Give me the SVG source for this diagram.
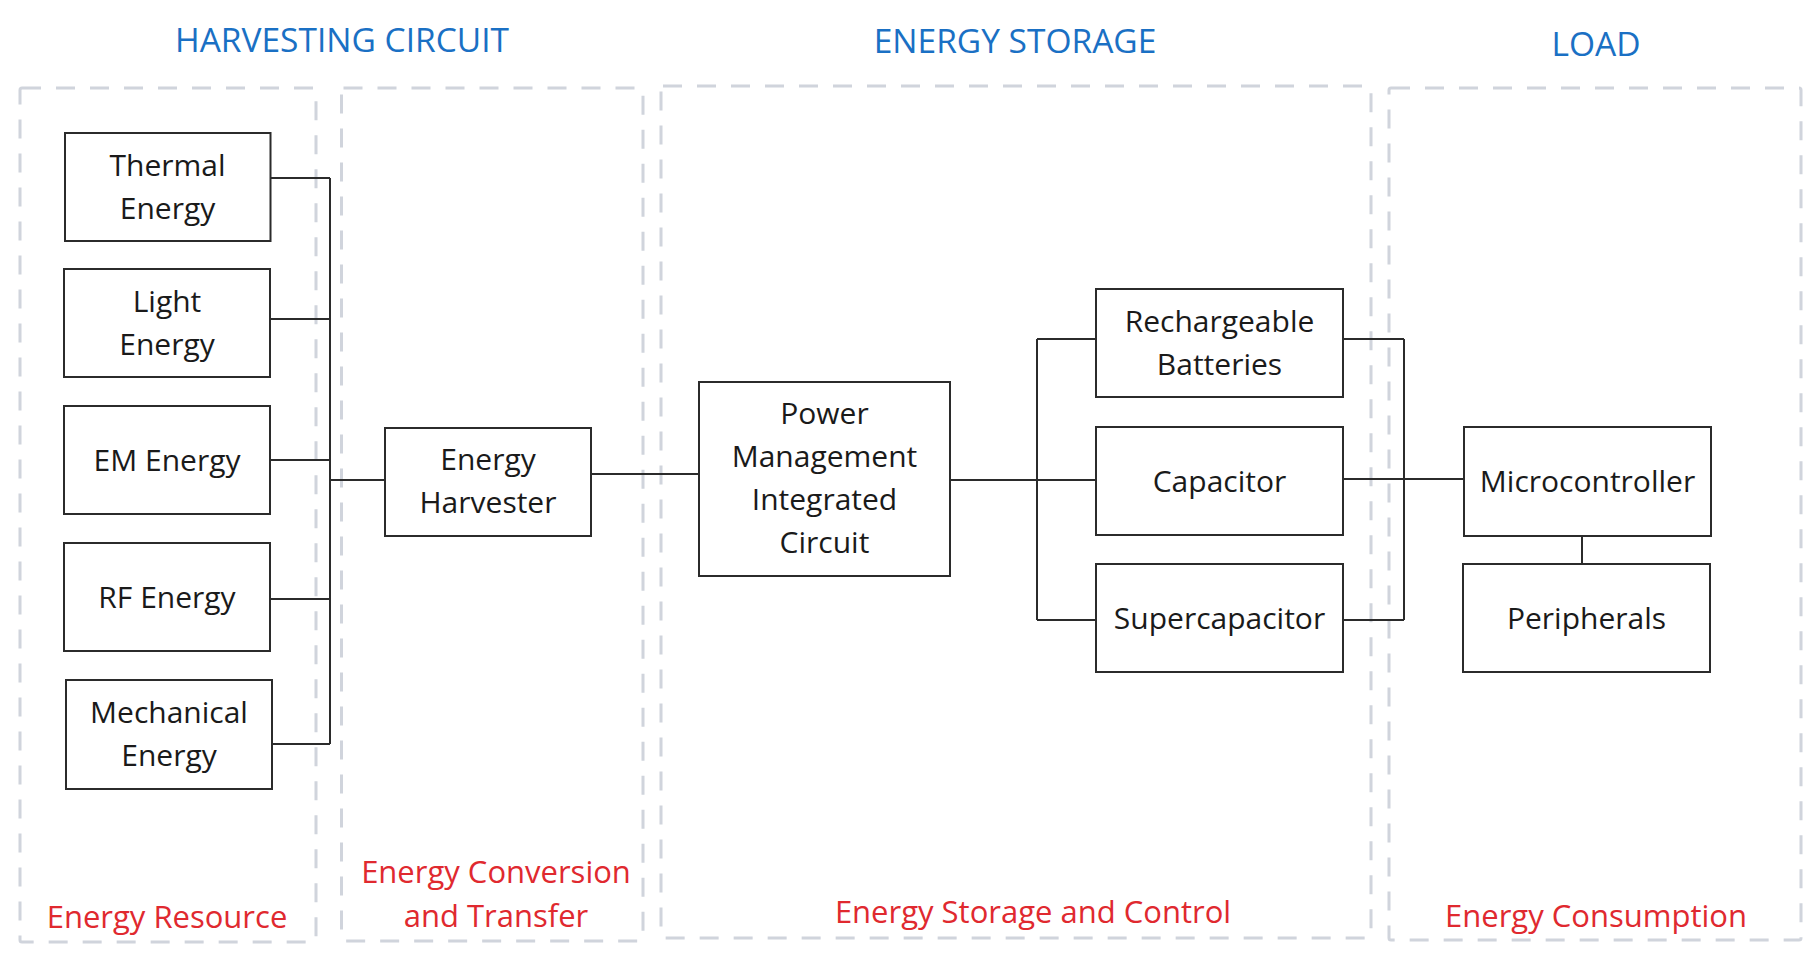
<svg xmlns="http://www.w3.org/2000/svg" width="1820" height="962" viewBox="0 0 1820 962">
<style>
.zone{fill:none;stroke:#d0d4dc;stroke-width:3;stroke-dasharray:19 15}
.title{font-family:"Open Sans","Liberation Sans",sans-serif;font-size:33.5px;fill:#1a70c4;text-anchor:middle}
.sub{font-family:"Open Sans","Liberation Sans",sans-serif;font-size:31px;fill:#e0292f;text-anchor:middle}
.box{fill:#fff;stroke:#2b2b2b;stroke-width:2}
.lbl{font-family:"Open Sans","Liberation Sans",sans-serif;font-size:30px;fill:#1a1a1a;text-anchor:middle}
.wire{fill:none;stroke:#2b2b2b;stroke-width:2}
</style>
<rect width="1820" height="962" fill="#fff"/>
<g id="zones">
<rect class="zone" x="20" y="88" width="296" height="854" rx="2"/>
<rect class="zone" x="341.5" y="88" width="301.5" height="853" rx="2"/>
<rect class="zone" x="661" y="86" width="710" height="852" rx="2"/>
<rect class="zone" x="1389" y="88" width="412" height="852" rx="2"/>
<text class="title" x="342" y="52">HARVESTING CIRCUIT</text>
<text class="title" x="1015" y="53">ENERGY STORAGE</text>
<text class="title" x="1596" y="56">LOAD</text>
<text class="sub" x="167" y="928">Energy Resource</text>
<text class="sub" x="496" y="883">Energy Conversion</text>
<text class="sub" x="496" y="927">and Transfer</text>
<text class="sub" x="1033" y="923">Energy Storage and Control</text>
<text class="sub" x="1596" y="927">Energy Consumption</text>
</g>
<g id="connectors">
<path class="wire" d="M270.5 178H330M270 319H330M270 460H330M270 599H330M272 744H330M330 178V744M330 480H385"/>
<path class="wire" d="M591 474H699"/>
<path class="wire" d="M950 480H1096M1037 339V620M1037 339H1096M1037 620H1096"/>
<path class="wire" d="M1343 339H1404M1343 620H1404M1404 339V620M1343 479H1464"/>
<path class="wire" d="M1582 536V564"/>
</g>
<g id="thermal"><rect class="box" x="65" y="133" width="205.5" height="108"/><text class="lbl" x="167.5" y="176">Thermal</text><text class="lbl" x="167.5" y="219">Energy</text></g>
<g id="light"><rect class="box" x="64" y="269" width="206" height="108"/><text class="lbl" x="167" y="312">Light</text><text class="lbl" x="167" y="355">Energy</text></g>
<g id="em"><rect class="box" x="64" y="406" width="206" height="108"/><text class="lbl" x="167" y="471">EM Energy</text></g>
<g id="rf"><rect class="box" x="64" y="543" width="206" height="108"/><text class="lbl" x="167" y="608">RF Energy</text></g>
<g id="mechanical"><rect class="box" x="66" y="680" width="206" height="109"/><text class="lbl" x="169" y="723">Mechanical</text><text class="lbl" x="169" y="766">Energy</text></g>
<g id="harvester"><rect class="box" x="385" y="428" width="206" height="108"/><text class="lbl" x="488" y="470">Energy</text><text class="lbl" x="488" y="513">Harvester</text></g>
<g id="pmic"><rect class="box" x="699" y="382" width="251" height="194"/><text class="lbl" x="824.5" y="424">Power</text><text class="lbl" x="824.5" y="467">Management</text><text class="lbl" x="824.5" y="510">Integrated</text><text class="lbl" x="824.5" y="553">Circuit</text></g>
<g id="batteries"><rect class="box" x="1096" y="289" width="247" height="108"/><text class="lbl" x="1219.5" y="332">Rechargeable</text><text class="lbl" x="1219.5" y="375">Batteries</text></g>
<g id="capacitor"><rect class="box" x="1096" y="427" width="247" height="108"/><text class="lbl" x="1219.5" y="492">Capacitor</text></g>
<g id="supercapacitor"><rect class="box" x="1096" y="564" width="247" height="108"/><text class="lbl" x="1219.5" y="629">Supercapacitor</text></g>
<g id="microcontroller"><rect class="box" x="1464" y="427" width="247" height="109"/><text class="lbl" x="1587.5" y="492">Microcontroller</text></g>
<g id="peripherals"><rect class="box" x="1463" y="564" width="247" height="108"/><text class="lbl" x="1586.5" y="629">Peripherals</text></g>
</svg>
